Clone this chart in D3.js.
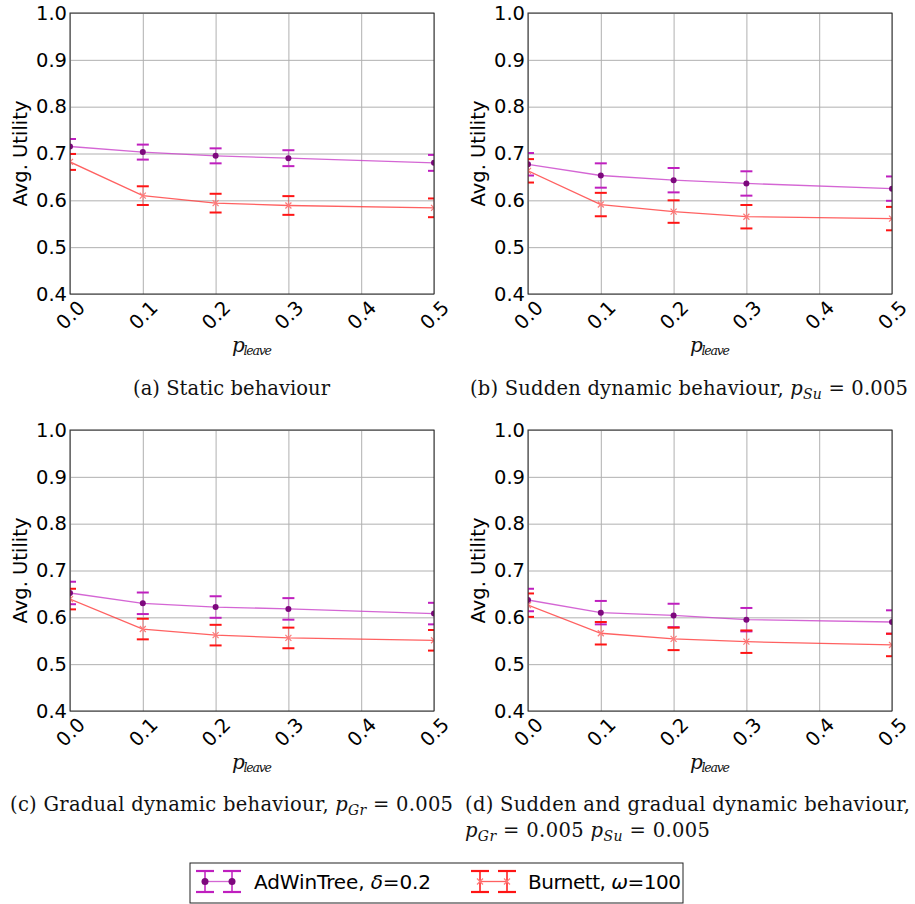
<!DOCTYPE html>
<html lang="en">
<head>
<meta charset="UTF-8">
<title>Avg. Utility vs p_leave</title>
<script src="https://d3js.org/d3.v7.min.js"></script>
<style>
  body { margin: 0; background: #fff; }
  svg { display: block; }
  .tick text { font-family: "DejaVu Sans", sans-serif; font-size: 19.5px; fill: #000; }
  .grid line { stroke: #b0b0b0; stroke-width: 1; }
  .caption { font-family: "DejaVu Serif", serif; font-size: 19.5px; fill: #111; }
  .sans { font-family: "DejaVu Sans", sans-serif; font-size: 19.5px; fill: #000; }
  .legend-text { font-family: "DejaVu Sans", sans-serif; font-size: 20px; fill: #000; }
</style>
</head>
<body>
<svg id="chart" width="915" height="904"></svg>
<script>
var pLeave = [0.0, 0.1, 0.2, 0.3, 0.5];
var xTicks = [0.0, 0.1, 0.2, 0.3, 0.4, 0.5];
var yTicks = [0.4, 0.5, 0.6, 0.7, 0.8, 0.9, 1.0];

// (a) static behaviour
var adwinStatic = [0.715, 0.703, 0.695, 0.690, 0.680];
var adwinStaticErr = [0.016, 0.016, 0.016, 0.017, 0.017];
var burnettStatic = [0.682, 0.610, 0.594, 0.589, 0.584];
var burnettStaticErr = [0.017, 0.020, 0.020, 0.020, 0.020];

// (b) sudden
var adwinSudden = [0.677, 0.653, 0.643, 0.636, 0.625];
var adwinSuddenErr = [0.024, 0.026, 0.026, 0.026, 0.026];
var burnettSudden = [0.663, 0.591, 0.576, 0.565, 0.561];
var burnettSuddenErr = [0.025, 0.025, 0.024, 0.025, 0.025];

// (c) gradual
var adwinGradual = [0.652, 0.630, 0.622, 0.618, 0.608];
var adwinGradualErr = [0.024, 0.023, 0.023, 0.023, 0.023];
var burnettGradual = [0.639, 0.575, 0.562, 0.556, 0.551];
var burnettGradualErr = [0.022, 0.022, 0.022, 0.022, 0.022];

// (d) sudden and gradual
var adwinBoth = [0.637, 0.610, 0.604, 0.595, 0.590];
var adwinBothErr = [0.024, 0.025, 0.025, 0.025, 0.025];
var burnettBoth = [0.626, 0.566, 0.554, 0.548, 0.541];
var burnettBothErr = [0.025, 0.024, 0.024, 0.024, 0.024];

// caption pieces: r = roman, i = math italic, s = italic subscript
var captionA = [["(a) Static behaviour", "r"]];
var captionB = [["(b) Sudden dynamic behaviour, ", "r"], ["p", "i"], ["Su", "s"], [" = 0.005", "r"]];
var captionC = [["(c) Gradual dynamic behaviour, ", "r"], ["p", "i"], ["Gr", "s"], [" = 0.005", "r"]];
var captionD1 = [["(d) Sudden and gradual dynamic behaviour,", "r"]];
var captionD2 = [["p", "i"], ["Gr", "s"], [" = 0.005 ", "r"], ["p", "i"], ["Su", "s"], [" = 0.005", "r"]];
var xLabel = [["p", "i"], ["leave", "s"]];

var purple = { line: "#c940c9", cap: "#bf1fbf", dot: "#7d087d" };
var red = { line: "#ff3a3a", cap: "#ff1414", mark: "#ff7a7a" };

var svg = d3.select("#chart");
var W = 364, H = 281;
var cols = [70, 528], rows = [13, 430];

var panels = [
  { col: 0, row: 0, a: adwinStatic, ae: adwinStaticErr, b: burnettStatic, be: burnettStaticErr,
    caps: [{ parts: captionA, x: 133, y: 395, w: 197 }] },
  { col: 1, row: 0, a: adwinSudden, ae: adwinSuddenErr, b: burnettSudden, be: burnettSuddenErr,
    caps: [{ parts: captionB, x: 470, y: 395, w: 438 }] },
  { col: 0, row: 1, a: adwinGradual, ae: adwinGradualErr, b: burnettGradual, be: burnettGradualErr,
    caps: [{ parts: captionC, x: 10, y: 811, w: 443 }] },
  { col: 1, row: 1, a: adwinBoth, ae: adwinBothErr, b: burnettBoth, be: burnettBothErr,
    caps: [{ parts: captionD1, x: 465, y: 811, w: 445 }, { parts: captionD2, x: 465, y: 836.5, w: 245 }] }
];

var x = d3.scaleLinear().domain([0, 0.5]).range([0, W]);
var y = d3.scaleLinear().domain([0.4, 1.0]).range([H, 0]);

function writeParts(t, parts, big, small, shift) {
  var shifted = false;
  parts.forEach(function (p) {
    var s = t.append("tspan").text(p[0]);
    if (p[1] === "i") s.attr("font-style", "italic").attr("font-size", big);
    if (p[1] === "s") {
      s.attr("font-style", "italic").attr("font-size", small).attr("dy", shift);
      shifted = true;
    } else if (shifted) {
      s.attr("dy", -shift);
      shifted = false;
    }
  });
}

function fitWidth(t, target) {
  var w = t.node().getComputedTextLength();
  var n = t.text().length;
  if (n > 1) t.style("letter-spacing", ((target - w) / (n - 1)) + "px");
}

function drawSeries(g, means, errs, col, kind) {
  var pts = pLeave.map(function (p, i) { return { x: p, m: means[i], e: errs[i] }; });

  g.selectAll(null).data(pts).enter().append("line")
    .attr("x1", d => x(d.x)).attr("x2", d => x(d.x))
    .attr("y1", d => y(d.m - d.e)).attr("y2", d => y(d.m + d.e))
    .attr("stroke", col.cap).attr("stroke-opacity", 0.45).attr("stroke-width", 1);

  [-1, 1].forEach(function (s) {
    g.selectAll(null).data(pts).enter().append("line")
      .attr("x1", d => x(d.x) - 6).attr("x2", d => x(d.x) + 6)
      .attr("y1", d => y(d.m + s * d.e)).attr("y2", d => y(d.m + s * d.e))
      .attr("stroke", col.cap).attr("stroke-width", 2);
  });

  g.append("path").datum(pts)
    .attr("d", d3.line().x(d => x(d.x)).y(d => y(d.m)))
    .attr("fill", "none").attr("stroke", col.line).attr("stroke-opacity", 0.8).attr("stroke-width", 1.3);

  if (kind === "dot") {
    g.selectAll(null).data(pts).enter().append("circle")
      .attr("cx", d => x(d.x)).attr("cy", d => y(d.m)).attr("r", 3)
      .attr("fill", col.dot);
  } else {
    g.selectAll(null).data(pts).enter().append("path")
      .attr("transform", d => "translate(" + x(d.x) + "," + y(d.m) + ")")
      .attr("d", "M-3,-3L3,3M-3,3L3,-3")
      .attr("stroke", col.mark).attr("stroke-width", 1.2);
  }
}

panels.forEach(function (p, k) {
  var g = svg.append("g").attr("transform", "translate(" + cols[p.col] + "," + rows[p.row] + ")");

  g.append("clipPath").attr("id", "clip" + k)
    .append("rect").attr("width", W).attr("height", H);

  var gy = g.append("g").attr("class", "grid")
    .call(d3.axisLeft(y).tickValues(yTicks).tickFormat(d3.format(".1f")).tickSize(-W).tickPadding(4));
  gy.select(".domain").remove();
  gy.selectAll("text").attr("x", -3);

  var gx = g.append("g").attr("class", "grid").attr("transform", "translate(0," + H + ")")
    .call(d3.axisBottom(x).tickValues(xTicks).tickFormat(d3.format(".1f")).tickSize(-H));
  gx.select(".domain").remove();
  gx.selectAll("text")
    .attr("y", 0).attr("dy", "0.35em")
    .attr("text-anchor", "middle")
    .attr("transform", "translate(0,21) rotate(-45)");

  var marks = g.append("g").attr("clip-path", "url(#clip" + k + ")");
  drawSeries(marks, p.a, p.ae, purple, "dot");
  drawSeries(marks, p.b, p.be, red, "x");

  g.append("rect").attr("width", W).attr("height", H)
    .attr("fill", "none").attr("stroke", "#2a2a2a").attr("stroke-width", 1);

  g.append("text").attr("class", "sans")
    .attr("transform", "translate(-43," + (H / 2) + ") rotate(-90)")
    .attr("text-anchor", "middle")
    .text("Avg. Utility");

  var xl = g.append("text").attr("class", "caption")
    .attr("x", W / 2 - 20).attr("y", H + 58).attr("fill", "#222");
  writeParts(xl, xLabel, 20, 12.5, 3);
  fitWidth(xl, 40);

  p.caps.forEach(function (c) {
    var t = svg.append("text").attr("class", "caption").attr("x", c.x).attr("y", c.y);
    writeParts(t, c.parts, 19.5, 14, 4);
    fitWidth(t, c.w);
  });
});

// legend
var lg = svg.append("g").attr("transform", "translate(190,863)");
lg.append("rect").attr("width", 493).attr("height", 40)
  .attr("fill", "#fff").attr("stroke", "#222").attr("stroke-width", 1);

var legendItems = [
  { col: purple, kind: "dot", x0: 15, x1: 42, tx: 64, w: 177, label: [["AdWinTree, ", "r"], ["\u03b4", "i"], ["=0.2", "r"]] },
  { col: red, kind: "x", x0: 290, x1: 317, tx: 338, w: 153, label: [["Burnett, ", "r"], ["\u03c9", "i"], ["=100", "r"]] }
];

legendItems.forEach(function (it) {
  var cy = 18.5;
  lg.append("line").attr("x1", it.x0).attr("x2", it.x1).attr("y1", cy).attr("y2", cy)
    .attr("stroke", it.col.line).attr("stroke-opacity", 0.8).attr("stroke-width", 1.3);
  [it.x0, it.x1].forEach(function (hx) {
    lg.append("line").attr("x1", hx).attr("x2", hx).attr("y1", cy - 10.5).attr("y2", cy + 10.5)
      .attr("stroke", it.col.cap).attr("stroke-width", 1.5);
    [-10.5, 10.5].forEach(function (dy) {
      lg.append("line").attr("x1", hx - 9).attr("x2", hx + 9).attr("y1", cy + dy).attr("y2", cy + dy)
        .attr("stroke", it.col.cap).attr("stroke-width", 2.2);
    });
    if (it.kind === "dot") {
      lg.append("circle").attr("cx", hx).attr("cy", cy).attr("r", 3.5).attr("fill", it.col.dot);
    } else {
      lg.append("path").attr("transform", "translate(" + hx + "," + cy + ")")
        .attr("d", "M-3,-3L3,3M-3,3L3,-3").attr("stroke", it.col.mark).attr("stroke-width", 1.2);
    }
  });
  var t = lg.append("text").attr("class", "legend-text").attr("x", it.tx).attr("y", cy).attr("dy", "0.35em");
  it.label.forEach(function (s) {
    var ts = t.append("tspan").text(s[0]);
    if (s[1] === "i") ts.attr("font-style", "italic");
  });
  fitWidth(t, it.w);
});
</script>
</body>
</html>
